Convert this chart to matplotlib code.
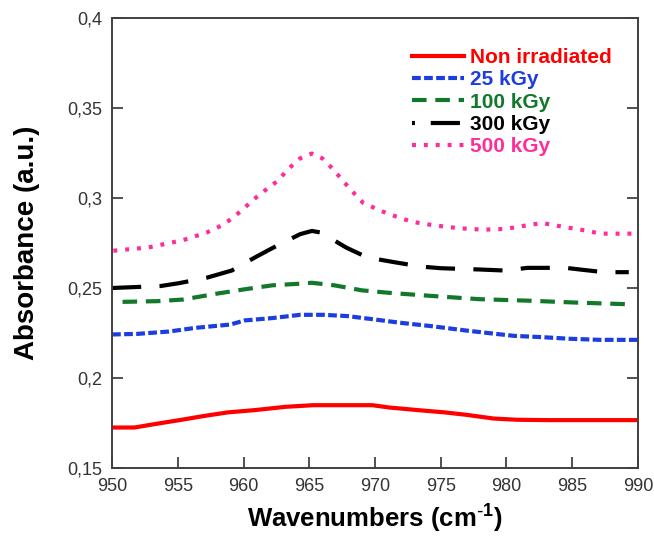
import matplotlib
matplotlib.use("Agg")
import matplotlib.pyplot as plt
from matplotlib.lines import Line2D

plt.rcParams["font.family"] = ["Liberation Sans", "DejaVu Sans"]
plt.rcParams["mathtext.default"] = "regular"

# values
x_non = [950.0, 951.7, 953.5, 955.3, 956.9, 958.8, 960.9, 963.2, 965.3, 967.4, 969.8,
         971.1, 973.2, 975.3, 976.9, 979.0, 980.8, 983.2, 990.0]
y_non = [0.1725, 0.1725, 0.1747, 0.1768, 0.1788, 0.1809, 0.1822, 0.1840, 0.1849, 0.1849, 0.1849,
         0.1836, 0.1822, 0.1809, 0.1796, 0.1775, 0.1768, 0.1766, 0.1766]

x_25 = [950.0, 951.9, 954.3, 956.4, 959.0, 960.1, 962.2, 964.3, 966.1, 967.9, 970.0,
        971.9, 974.3, 976.9, 979.2, 980.6, 982.7, 984.8, 987.1, 990.0]
y_25 = [0.2242, 0.2245, 0.2258, 0.2279, 0.2297, 0.2320, 0.2333, 0.2351, 0.2351, 0.2344, 0.2325,
        0.2307, 0.2288, 0.2264, 0.2245, 0.2234, 0.2227, 0.2218, 0.2212, 0.2212]

x_100 = [950.8, 953.5, 955.4, 958.0, 960.1, 962.2, 964.3, 965.2, 966.9, 969.0, 971.1,
         974.3, 977.9, 981.9, 985.3, 989.2]
y_100 = [0.2423, 0.2427, 0.2436, 0.2469, 0.2493, 0.2515, 0.2524, 0.2529, 0.2515, 0.2487, 0.2473,
         0.2456, 0.2438, 0.2429, 0.2419, 0.2410]

x_300 = [950.0, 953.7, 955.1, 957.2, 959.1, 960.8, 962.2, 964.3, 965.2, 965.9, 967.8, 969.4,
         971.5, 973.5, 975.0, 977.9, 979.9, 981.6, 984.5, 985.8, 987.4, 989.3]
y_300 = [0.2500, 0.2511, 0.2527, 0.2557, 0.2597, 0.2667, 0.2722, 0.2799, 0.2817, 0.2808, 0.2725, 0.2670,
         0.2643, 0.2619, 0.2610, 0.2603, 0.2597, 0.2612, 0.2612, 0.2601, 0.2588, 0.2588]

x_500 = [950.1, 952.75, 955.4, 957.2, 958.1, 958.9, 959.8, 960.75, 961.7, 962.6, 963.4, 964.3,
         965.2, 966.0, 966.8, 967.6, 968.4, 969.1, 970.1, 971.0, 971.9, 972.8, 974.5, 976.4,
         978.2, 979.9, 981.7, 982.7, 984.4, 986.2, 987.1, 989.9]
y_500 = [0.2707, 0.2725, 0.2766, 0.2808, 0.2839, 0.2875, 0.2927, 0.2991, 0.3046, 0.3095, 0.3161, 0.3220,
         0.3247, 0.3220, 0.3161, 0.3092, 0.3027, 0.2973, 0.2940, 0.2912, 0.2890, 0.2868, 0.2848, 0.2832,
         0.2824, 0.2828, 0.2850, 0.2861, 0.2839, 0.2817, 0.2802, 0.2802]

labels = ["Non irradiated", "25 kGy", "100 kGy", "300 kGy", "500 kGy"]
colors = ["#ff0000", "#1c3ee0", "#12782a", "#000000", "#ff2d9a"]
dashes = [None, (2.1, 0.8), (3.5, 2.1), (7.0, 4.4), (0.95, 1.9)]

y_ticks = [0.15, 0.2, 0.25, 0.3, 0.35, 0.4]
y_tick_labels = ["0,15", "0,2", "0,25", "0,3", "0,35", "0,4"]
x_ticks = [950, 955, 960, 965, 970, 975, 980, 985, 990]

fig = plt.figure(figsize=(6.54, 5.47), dpi=100)
ax = fig.add_axes([0.1713, 0.1444, 0.8042, 0.8227])

series = [(x_non, y_non), (x_25, y_25), (x_100, y_100), (x_300, y_300), (x_500, y_500)]
for (xs, ys), col, ds in zip(series, colors, dashes):
    line, = ax.plot(xs, ys, color=col, lw=3, solid_capstyle="butt")
    if ds is not None:
        line.set_dashes(ds)

ax.set_xlim(950, 990)
ax.set_ylim(0.15, 0.4)
ax.set_xticks(x_ticks)
ax.set_yticks(y_ticks)
ax.set_yticklabels(y_tick_labels)
ax.tick_params(axis="both", direction="in", length=8, width=1.2, labelsize=13,
               colors="#333333", pad=7)
ax.tick_params(axis="y", right=True)
for sp in ax.spines.values():
    sp.set_color("#404040")
    sp.set_linewidth(1.4)

ax.set_xlabel(r"Wavenumbers (cm$^{\text{-}1}$)", fontsize=18.5, fontweight="bold", labelpad=6)
ax.set_ylabel("Absorbance (a.u.)", fontsize=20, fontweight="bold", labelpad=20)

# legend handles (300 kGy shows a dot before the long dash)
handles = []
for col, ds, lab in zip(colors, dashes, labels):
    h = Line2D([], [], color=col, lw=3)
    if lab == "300 kGy":
        h.set_dashes((0.7, 3.8, 7.0, 3.8))
    elif ds is not None:
        h.set_dashes(ds)
    handles.append(h)

leg = ax.legend(handles, labels, loc="upper right", bbox_to_anchor=(0.966, 0.952),
                frameon=False, handlelength=2.5, handletextpad=0.3, labelspacing=0.16,
                borderaxespad=0, prop={"size": 15, "weight": "bold"})
for txt, col in zip(leg.get_texts(), colors):
    txt.set_color(col)

fig.savefig("out.png", dpi=100)
